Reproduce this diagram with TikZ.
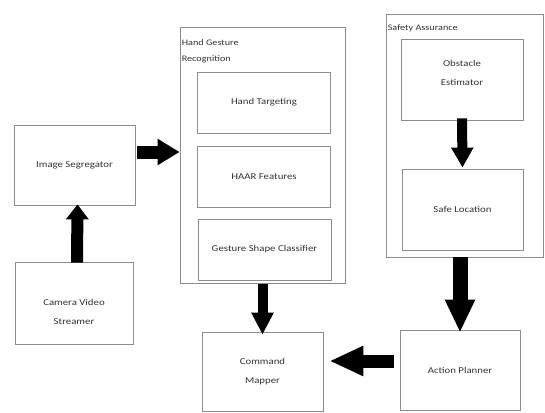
\documentclass[tikz,border=0pt]{standalone}
\usepackage{fontspec}
\setmainfont{Carlito}[FakeStretch=1.2]
\usetikzlibrary{positioning, arrows.meta}

\begin{document}
\begin{tikzpicture}[x=1pt, y=-1pt,
  block/.style={draw=black!45, line width=0.8pt, rectangle, align=center, text=black!80,
    font=\fontsize{9}{19}\selectfont, minimum width=120pt, minimum height=80pt},
  inbox/.style={block, minimum width=133pt, minimum height=61pt},
  group/.style={draw=black!45, line width=0.8pt, rectangle},
  grouplabel/.style={align=left, text=black!80, inner sep=2pt, font=\fontsize{8.5}{16}\selectfont},
  fat/.style={line width=#1}]
\useasboundingbox (0,0) rectangle (545,412);

% left column
\node[block, minimum width=121pt] (imgseg) at (74.5,165) {Image Segregator};
\node[block, minimum width=118pt, minimum height=82pt] (camera) at (74,303) {\rule{0pt}{24pt}Camera Video\\Streamer};

% hand gesture recognition
\node[group, minimum width=165pt, minimum height=256pt] (hgr) at (262.5,155.5) {};
\node[grouplabel, below right=10pt and 0pt of hgr.north west] (hgrlabel) {Hand Gesture\\Recognition};
\node[inbox] (target) at (264,102.5) {Hand Targeting};
\node[inbox] (haar) at (264,176.5) {HAAR Features};
\node[inbox] (shape) at (264.5,249.5) {Gesture Shape Classifier};

% safety assurance
\node[group, minimum width=157pt, minimum height=243pt] (safety) at (464.5,135.5) {};
\node[grouplabel, below right=9pt and 0pt of safety.north west] (safetylabel) {Safety Assurance};
\node[block, minimum width=122pt, minimum height=81pt] (obstacle) at (462,79.5) {Obstacle\\Estimator\rule[-14pt]{0pt}{14pt}};
\node[block, minimum width=121pt, minimum height=81pt] (safe) at (462.5,209.5) {Safe Location};

% bottom row
\node[block, minimum width=121pt, minimum height=79pt] (mapper) at (262.5,371.5) {Command\\Mapper};
\node[block, minimum width=120pt, minimum height=80pt] (planner) at (460,370) {Action Planner};

% arrows
\draw[fat=12pt, -{Triangle[width=22pt, length=15pt]}] ([xshift=3pt, yshift=-1pt]camera.north) -- ([xshift=3pt, yshift=1pt]imgseg.south);
\draw[fat=13pt, -{Triangle[width=25pt, length=22pt]}] ([xshift=2pt, yshift=13pt]imgseg.east) -- ([yshift=13pt]imgseg.east -| hgr.west);
\draw[fat=10pt, -{Triangle[width=21pt, length=20pt]}] ([yshift=2pt]obstacle.south) -- ([yshift=1pt]safe.north);
\draw[fat=10pt, -{Triangle[width=21pt, length=22pt]}] (hgr.south -| mapper.north) -- ([yshift=-3pt]mapper.north);
\draw[fat=15pt, -{Triangle[width=28pt, length=33pt]}] (safety.south -| planner.north) -- ([yshift=-3pt]planner.north);
\draw[fat=13pt, -{Triangle[width=28pt, length=34pt]}] ([xshift=-6pt, yshift=9pt]planner.west) -- ([xshift=6pt, yshift=9pt]planner.west -| mapper.east);
\end{tikzpicture}
\end{document}
